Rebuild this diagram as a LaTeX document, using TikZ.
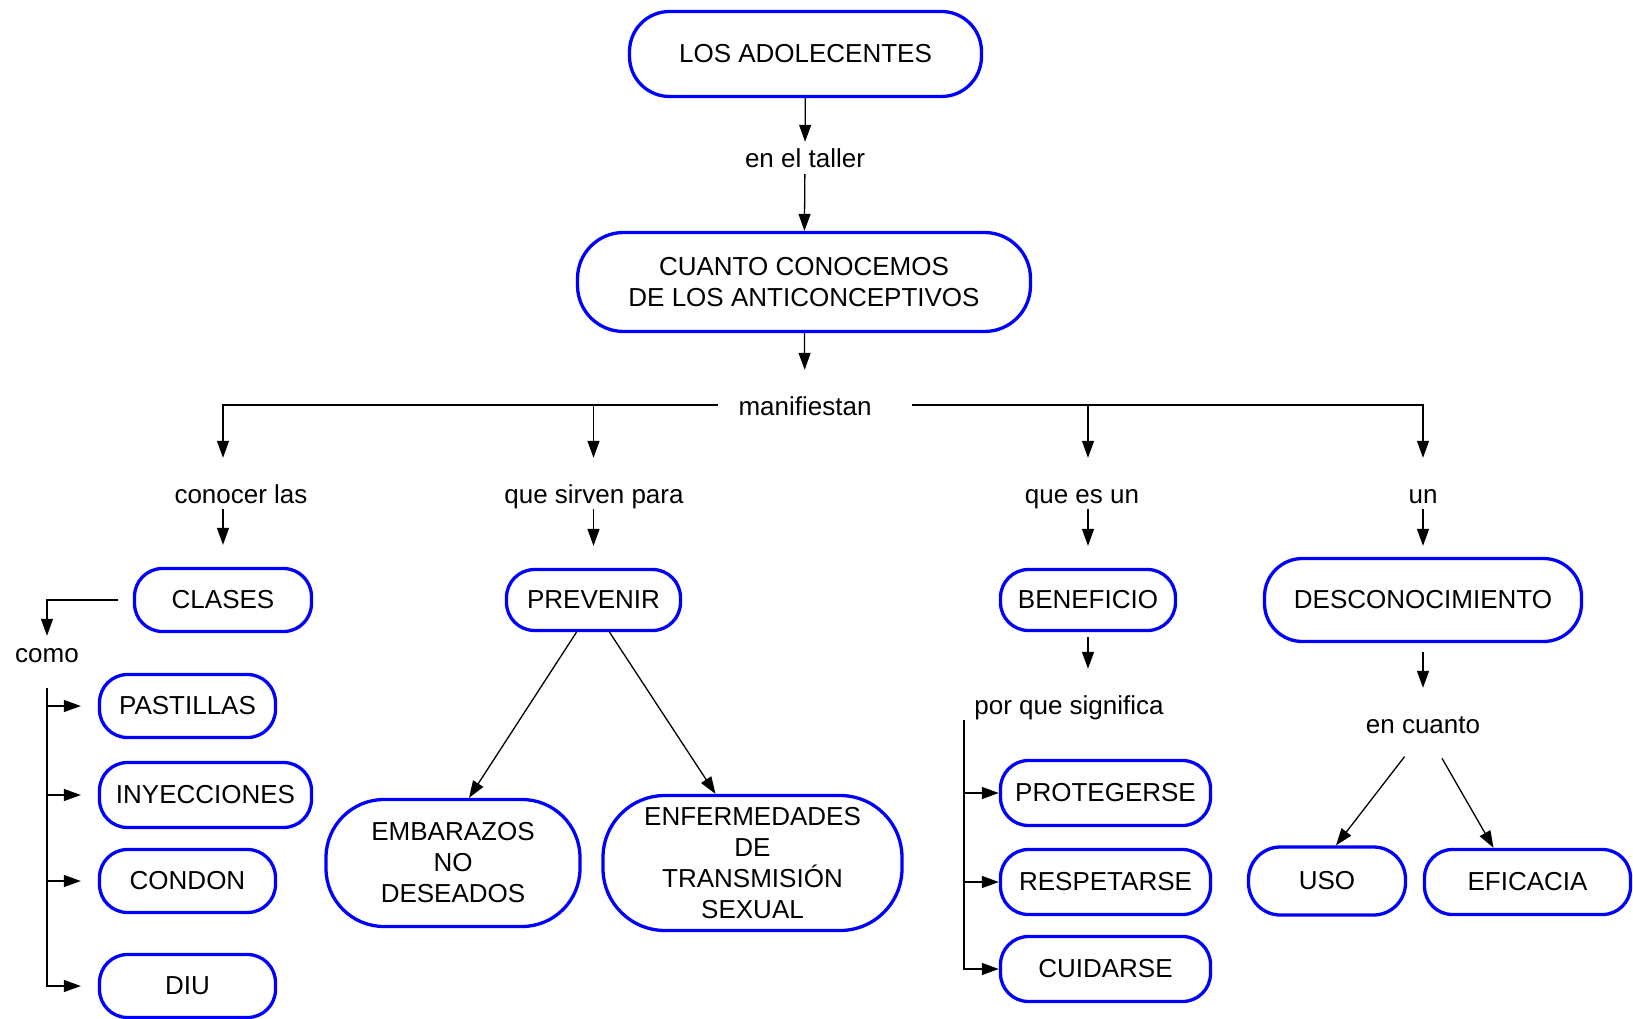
\documentclass[tikz,border=0pt]{standalone}
\usepackage{fontspec}
\setmainfont{Liberation Sans}
\usetikzlibrary{arrows.meta}

\tikzset{
  concepto/.style={draw=blue, line width=3.3pt, rounded corners=#1, align=center, inner sep=0pt, font=\fontsize{26}{31}\selectfont},
  concepto/.default=28pt,
  enlace/.style={text height=22pt, text depth=2pt, inner ysep=4pt, inner xsep=2pt, font=\fontsize{26}{31}\selectfont},
  flecha/.style={line width=1.3pt, -{Triangle[length=17pt,width=12pt]}}
}

\begin{document}
\begin{tikzpicture}[x=1pt,y=-1pt]
\useasboundingbox (0,0) rectangle (1633,1019);

\node[concepto=40pt, minimum width=352pt, minimum height=85pt] (adol) at (805.5,54) {LOS ADOLECENTES};
\node[enlace] (taller) at (805,158) {en el taller};
\node[concepto=46pt, minimum width=453pt, minimum height=99pt] (cuanto) at (804,282) {CUANTO CONOCEMOS\\DE LOS ANTICONCEPTIVOS};
\node[enlace, inner xsep=20pt] (manif) at (805,405) {manifiestan};

\node[enlace] (conocer) at (241,493) {conocer las};
\node[enlace] (sirven) at (594,493) {que sirven para};
\node[enlace] (esun) at (1082,493) {que es un};
\node[enlace] (un) at (1423,493) {un};

\node[concepto, minimum width=177pt, minimum height=63pt] (clases) at (223,600) {CLASES};
\node[concepto, minimum width=174pt, minimum height=61pt] (prevenir) at (593.5,600) {PREVENIR};
\node[concepto, minimum width=175pt, minimum height=61pt] (beneficio) at (1088,600) {BENEFICIO};
\node[concepto=38pt, minimum width=317pt, minimum height=83pt] (desconocimiento) at (1423,600) {DESCONOCIMIENTO};

\node[enlace] (como) at (47,652) {como};
\node[concepto, minimum width=176pt, minimum height=63pt] (pastillas) at (187.5,706) {PASTILLAS};
\node[concepto, minimum width=212pt, minimum height=65pt] (inyecciones) at (205.5,795) {INYECCIONES};
\node[concepto, minimum width=176pt, minimum height=63pt] (condon) at (187.5,881) {CONDON};
\node[concepto, minimum width=176pt, minimum height=63pt] (diu) at (187.5,986) {DIU};

\node[concepto=58pt, minimum width=254pt, minimum height=127pt] (embarazos) at (453,863) {EMBARAZOS\\NO\\DESEADOS};
\node[concepto=62pt, minimum width=299pt, minimum height=135pt] (enfermedades) at (752.5,863) {ENFERMEDADES\\DE\\TRANSMISIÓN\\SEXUAL};

\node[enlace, inner xsep=10pt] (significa) at (1069,704) {por que significa};
\node[concepto, minimum width=210pt, minimum height=65pt] (protegerse) at (1105.5,793) {PROTEGERSE};
\node[concepto, minimum width=210pt, minimum height=65pt] (respetarse) at (1105.5,882) {RESPETARSE};
\node[concepto, minimum width=210pt, minimum height=65pt] (cuidarse) at (1105.5,969) {CUIDARSE};

\node[enlace] (encuanto) at (1423,723) {en cuanto};
\node[concepto=32pt, minimum width=157pt, minimum height=68pt] (uso) at (1327,881) {USO};
\node[concepto, minimum width=206pt, minimum height=65pt] (eficacia) at (1527.5,882) {EFICACIA};

\draw[flecha] (adol) -- (taller);
\draw[flecha] (taller) -- (cuanto);
\draw[flecha, shorten >=19pt] (cuanto) -- (manif);

\draw[flecha, shorten >=19pt] (manif.west) -| (clases.north |- conocer.north);
\draw[flecha, shorten >=19pt] (manif.west) -| (prevenir.north |- sirven.north);
\draw[flecha, shorten <=20pt, shorten >=19pt] (manif.east) -| (beneficio.north |- esun.north);
\draw[flecha, shorten <=20pt, shorten >=19pt] (manif.east) -| (desconocimiento.north |- un.north);

\draw[flecha, shorten >=22pt] (clases.north |- conocer.south) -- (clases.north);
\draw[flecha, shorten >=22pt] (prevenir.north |- sirven.south) -- (prevenir.north);
\draw[flecha, shorten >=22pt] (beneficio.north |- esun.south) -- (beneficio.north);
\draw[flecha, shorten >=11pt] (desconocimiento.north |- un.south) -- (desconocimiento.north);

\draw[flecha, shorten <=15pt] (clases.west) -| (como);
\draw[flecha, shorten <=20pt, shorten >=17pt] (como) |- (pastillas);
\draw[flecha, shorten <=20pt, shorten >=17pt] (como) |- (inyecciones);
\draw[flecha, shorten <=20pt, shorten >=17pt] (como) |- (condon);
\draw[flecha, shorten <=20pt, shorten >=17pt] (como) |- (diu);

\draw[flecha] ([xshift=-17pt]prevenir.south) -- ([xshift=16pt]embarazos.north);
\draw[flecha] ([xshift=16pt]prevenir.south) -- ([xshift=-37pt]enfermedades.north);

\draw[flecha, shorten <=5pt, shorten >=19pt] (beneficio.south) -- (beneficio.south |- significa.north);
\draw[flecha] (significa.south west) |- (protegerse);
\draw[flecha] (significa.south west) |- (respetarse);
\draw[flecha] (significa.south west) |- (cuidarse);

\draw[flecha, shorten <=9pt, shorten >=19pt] (desconocimiento) -- (encuanto);
\draw[flecha, shorten <=22pt] ([xshift=-5pt]encuanto.south) -- ([xshift=9pt]uso.north);
\draw[flecha, shorten <=22pt] ([xshift=8pt]encuanto.south) -- ([xshift=-34pt]eficacia.north);
\end{tikzpicture}
\end{document}
